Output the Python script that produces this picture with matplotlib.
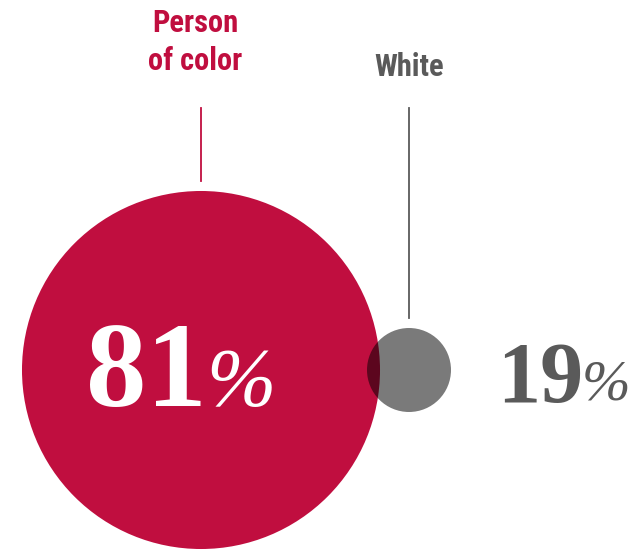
import matplotlib
matplotlib.use("Agg")
import matplotlib.pyplot as plt
from matplotlib.patches import Circle
from matplotlib import font_manager

labels = ["Person\nof color", "White"]
values = [81, 19]
colors = ["#C00E3F", "#000000"]
alphas = [1.0, 0.52]
label_colors = ["#C00E3F", "#5a5a5a"]
num_colors = ["white", "#5a5a5a"]

W, H = 637, 550
fig = plt.figure(figsize=(W / 100, H / 100), dpi=100)
ax = fig.add_axes([0, 0, 1, 1])
ax.set_xlim(0, W)
ax.set_ylim(H, 0)
ax.set_aspect("equal")
ax.axis("off")

installed = {f.name for f in font_manager.fontManager.ttflist}
cond = [f for f in ["Roboto Condensed", "Liberation Sans Narrow", "DejaVu Sans Condensed",
                    "Roboto", "DejaVu Sans"] if f in installed]
serif = [f for f in ["Liberation Serif", "DejaVu Serif"] if f in installed]

scale = 2.21
cx = [201, 409]
cy = 370
line_top = 108
label_x = [195, 409]
baseline0 = [32, 76]
line_gap = 38

for i, (lab, v) in enumerate(zip(labels, values)):
    r = v * scale
    ax.add_patch(Circle((cx[i], cy), r, facecolor=colors[i], alpha=alphas[i],
                        edgecolor="none", zorder=2 + i))
    ax.plot([cx[i], cx[i]], [line_top, cy - r - 10], color=label_colors[i], lw=1.3, zorder=1)
    for j, part in enumerate(lab.split("\n")):
        ax.text(label_x[i], baseline0[i] + j * line_gap, part, color=label_colors[i],
                family=cond, fontweight="bold", fontsize=22, ha="center", va="baseline")

# numbers
ax.text(207, 406, "81", color=num_colors[0], family=serif, fontsize=87, fontweight="bold",
        ha="right", va="baseline", zorder=5)
ax.text(206, 405, "%", color=num_colors[0], family=serif, fontsize=60, style="italic",
        ha="left", va="baseline", zorder=5)
ax.text(583, 402, "19", color=num_colors[1], family=serif, fontsize=62, fontweight="bold",
        ha="right", va="baseline", zorder=5)
ax.text(582, 400, "%", color=num_colors[1], family=serif, fontsize=42, style="italic",
        ha="left", va="baseline", zorder=5)

fig.savefig("out.png", dpi=100)
